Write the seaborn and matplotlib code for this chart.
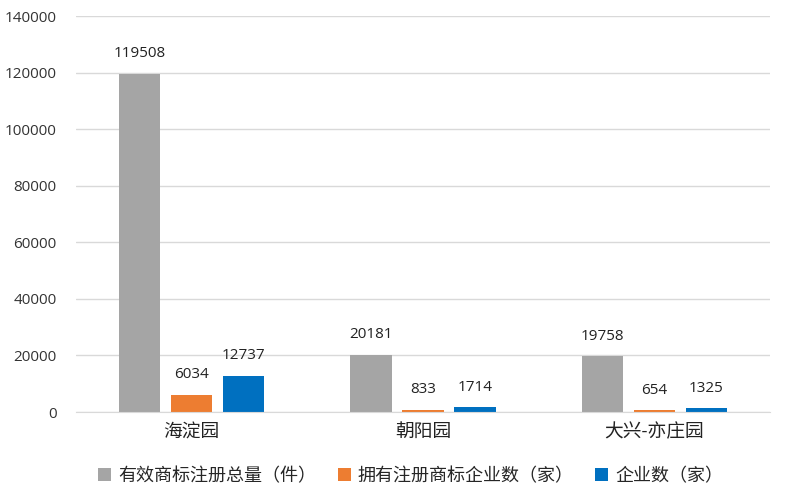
import pandas as pd
import matplotlib.pyplot as plt
import seaborn as sns

# Data
parks = ["海淀园", "朝阳园", "大兴-亦庄园"]
series = ["有效商标注册总量（件）", "拥有注册商标企业数（家）", "企业数（家）"]
trademarks = [119508, 20181, 19758]
tm_companies = [6034, 833, 654]
companies = [12737, 1714, 1325]
colors = ["#A5A5A5", "#ED7D31", "#0070C0"]

df = pd.DataFrame({
    "park": parks * 3,
    "series": [s for s in series for _ in parks],
    "value": trademarks + tm_companies + companies,
})

sns.set_style("white")
plt.rcParams["font.family"] = ["Open Sans", "Noto Sans CJK SC", "DejaVu Sans"]

fig = plt.figure(figsize=(7.9, 5), dpi=100)
ax = fig.add_axes([0.0962, 0.176, 0.8785, 0.792])

sns.barplot(data=df, x="park", y="value", hue="series", hue_order=series,
            palette=colors, width=0.675, gap=0.21, ax=ax, legend=True,
            errorbar=None, saturation=1, linewidth=0)

for cont in ax.containers:
    ax.bar_label(cont, fmt="%d", padding=9, fontsize=11, color="#222222")

ax.set_ylim(0, 140000)
ax.set_yticks(range(0, 140001, 20000))
ax.yaxis.grid(True, color="#D9D9D9", linewidth=1)
ax.set_axisbelow(True)
for s in ["top", "right", "left"]:
    ax.spines[s].set_visible(False)
ax.spines["bottom"].set_color("#D9D9D9")
ax.tick_params(axis="y", labelsize=11, labelcolor="#333333", length=0, pad=14)
ax.tick_params(axis="x", labelsize=13.5, labelcolor="#222222", length=0, pad=8)
ax.set_xlabel("")
ax.set_ylabel("")

handles = ax.get_legend().legend_handles
ax.get_legend().remove()
fig.legend(handles, series, loc="center", bbox_to_anchor=(0.52, 0.048),
           ncol=3, frameon=False, fontsize=13, handlelength=0.7,
           handleheight=0.7, handletextpad=0.4, columnspacing=1.2)

fig.savefig("out.png", dpi=100)
